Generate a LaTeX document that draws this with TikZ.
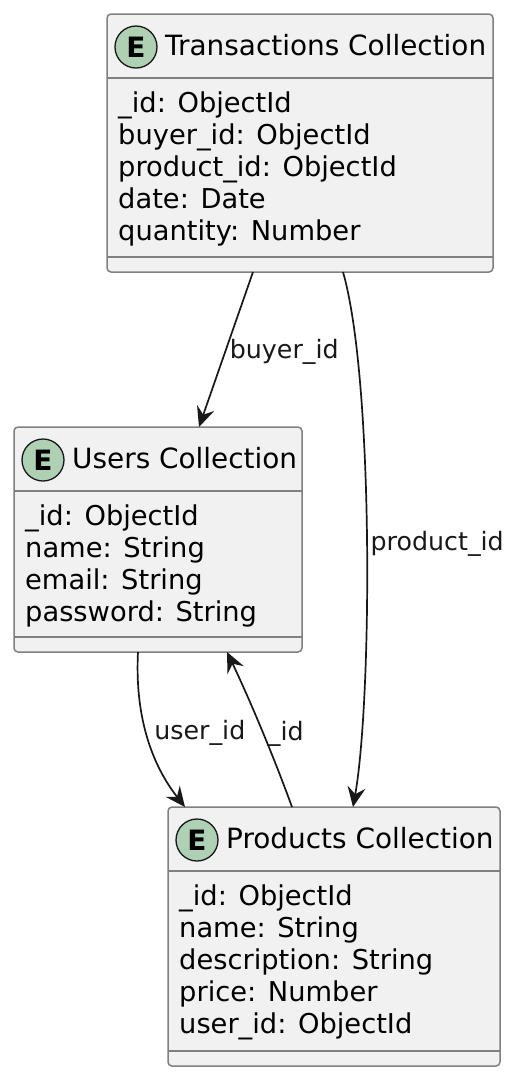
\documentclass[tikz,border=0pt]{standalone}
\usepackage{fontspec}
\setmainfont{DejaVu Sans}
\usetikzlibrary{arrows.meta}

\definecolor{spotgreen}{RGB}{173,209,178}
\definecolor{boxfill}{RGB}{241,241,241}
\definecolor{boxline}{RGB}{128,128,128}
\definecolor{ink}{RGB}{24,24,24}

\begin{document}
\begin{tikzpicture}
[x=1pt,y=-1pt,>={Stealth[length=20pt,width=18pt,inset=7pt]},
 entity/.style={rectangle,rounded corners=4pt,draw=boxline,fill=boxfill,line width=1.5pt,outer sep=0pt,inner sep=0pt},
 badge/.style={circle,draw=ink,fill=spotgreen,line width=1.3pt,minimum size=42pt,inner sep=0pt,font=\fontsize{28}{30}\selectfont\bfseries},
 title/.style={anchor=base west,inner sep=0pt,font=\fontsize{27.9}{32}\selectfont},
 field/.style={anchor=base west,inner sep=0pt,font=\fontsize{27.3}{32}\selectfont},
 sep/.style={draw=boxline,line width=1.5pt},
 link/.style={->,draw=ink,line width=1.7pt},
 lbl/.style={anchor=base west,inner sep=0pt,text=ink,font=\fontsize{25.3}{30}\selectfont}]

  \useasboundingbox (0,0) rectangle (520,1080);

  \node[entity,minimum width=386pt,minimum height=258pt] (trans) at (300,143) {};
  \node[entity,minimum width=288pt,minimum height=225pt] (users) at (158,539.5) {};
  \node[entity,minimum width=332pt,minimum height=259pt] (prods) at (334,936.5) {};

  % headers
  \foreach \e/\name in {trans/Transactions Collection,users/Users Collection,prods/Products Collection}{
    \node[badge] (\e-spot) at ([xshift=29pt,yshift=-33pt]\e.north west) {E};
    \node[title] (\e-title) at ([xshift=58pt,yshift=-41pt]\e.north west) {\name};
    \draw[sep] ([yshift=-64pt]\e.north west) -- ([yshift=-64pt]\e.north east);
    \draw[sep] ([yshift=15pt]\e.south west) -- ([yshift=15pt]\e.south east);
  }

  % fields
  \foreach \t [count=\i from 0] in {\_id: ObjectId,buyer\_id: ObjectId,product\_id: ObjectId,date: Date,quantity: Number}
    \node[field] (trans-\i) at ([xshift=11pt,yshift=-98pt-32pt*\i]trans.north west) {\t};
  \foreach \t [count=\i from 0] in {\_id: ObjectId,name: String,email: String,password: String}
    \node[field] (users-\i) at ([xshift=11pt,yshift=-98pt-32pt*\i]users.north west) {\t};
  \foreach \t [count=\i from 0] in {\_id: ObjectId,name: String,description: String,price: Number,user\_id: ObjectId}
    \node[field] (prods-\i) at ([xshift=11pt,yshift=-98pt-32pt*\i]prods.north west) {\t};

  % relations
  \draw[link] ([xshift=146pt]trans.south west) -- node[lbl,pos=0.555,xshift=6pt] {buyer\_id} ([xshift=185pt]users.north west);
  \draw[link] ([xshift=236pt]trans.south west) .. controls +(31,108) and +(19,-107) .. node[lbl,pos=0.51,xshift=3pt,yshift=-4pt] {product\_id} ([xshift=185pt]prods.north west);
  \draw[link] ([xshift=124pt]users.south west) .. controls +(-4,78) and +(-25,-32) .. node[lbl,pos=0.48,xshift=4pt,yshift=4pt] {user\_id} ([xshift=17pt]prods.north west);
  \draw[link] ([xshift=124pt]prods.north west) .. controls +(-17,-47) and +(23,48) .. node[lbl,pos=0.45,xshift=2pt,yshift=-3pt] {\_id} ([xshift=213pt]users.south west);
\end{tikzpicture}
\end{document}
